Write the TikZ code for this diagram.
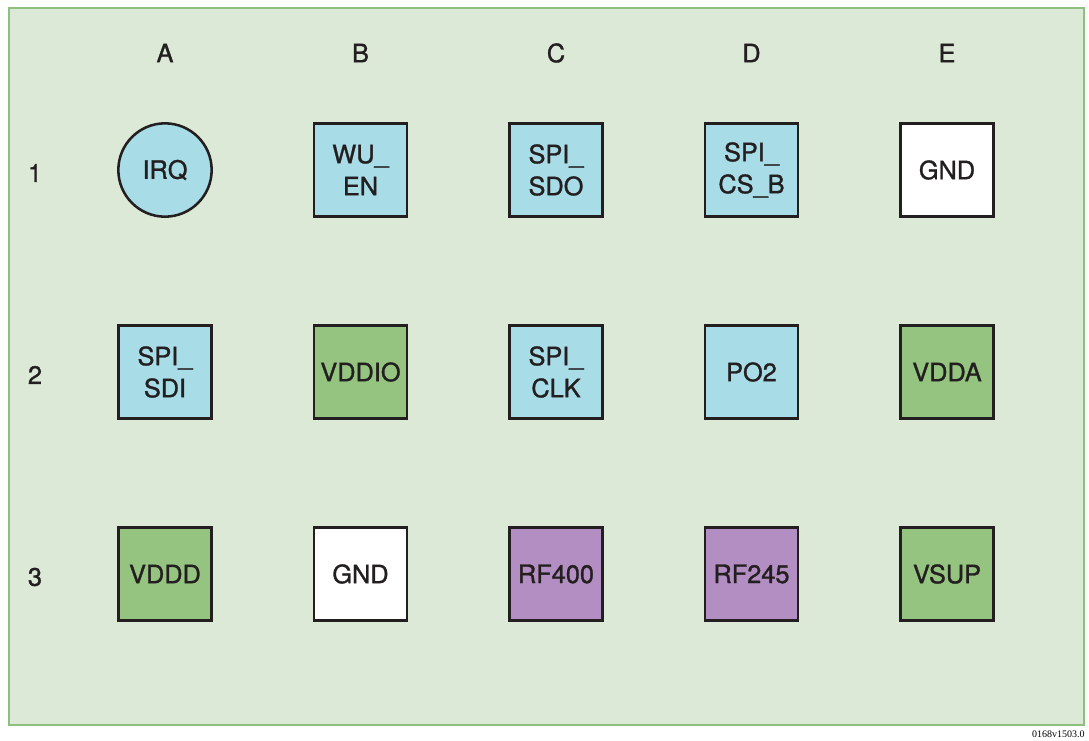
\documentclass[tikz,border=0pt]{standalone}
\usepackage{fontspec}
\setmainfont{TeX Gyre Heros}
\newfontfamily\pinfont[FakeBold=1.2]{TeX Gyre Heros}
\newfontfamily\tagfont{Liberation Serif}
\usetikzlibrary{positioning}
\definecolor{bgcol}{HTML}{DCE9D6}
\definecolor{framecol}{HTML}{8DC07F}
\definecolor{linecol}{HTML}{231F20}
\definecolor{pinblue}{HTML}{A8DDE8}
\definecolor{pingreen}{HTML}{94C47F}
\definecolor{pinpurple}{HTML}{B38EC3}

\begin{document}
\begin{tikzpicture}[x=0.75pt, y=-0.75pt,
  pinbox/.style={draw=linecol, line width=1.9pt, minimum size=70pt, inner sep=0pt,
    align=center, font=\pinfont\fontsize{19}{24}\selectfont, text=linecol},
  pinround/.style={pinbox, circle},
  axislabel/.style={font=\pinfont\fontsize{19}{24}\selectfont, text=linecol}]

 \useasboundingbox (0,0) rectangle (1089,740);
 \draw[fill=bgcol, draw=framecol, line width=1.5pt] (9,7.5) rectangle (1083.5,724.5);

 %column and row labels
 \def\dx{195.5}
 \def\dy{202}
 \foreach \i/\name in {0/A, 1/B, 2/C, 3/D, 4/E} {
   \node[axislabel] (col\name) at (165 + \i*\dx, 53) {\name};
 }
 \foreach \j/\name in {0/1, 1/2, 2/3} {
   \node[axislabel] (row\name) at (35, 173 + \j*\dy) {\name};
 }

 %balls
 \node[pinround, fill=pinblue] (pinA1) at (165, 170) {IRQ};
 \foreach \i/\j/\col/\name/\txt in {
     1/0/pinblue/B1/{WU\_\\EN},
     2/0/pinblue/C1/{SPI\_\\SDO},
     3/0/pinblue/D1/{SPI\_\\CS\_B},
     4/0/white/E1/GND,
     0/1/pinblue/A2/{SPI\_\\SDI},
     1/1/pingreen/B2/VDDIO,
     2/1/pinblue/C2/{SPI\_\\CLK},
     3/1/pinblue/D2/PO2,
     4/1/pingreen/E2/VDDA,
     0/2/pingreen/A3/VDDD,
     1/2/white/B3/GND,
     2/2/pinpurple/C3/RF400,
     3/2/pinpurple/D3/RF245,
     4/2/pingreen/E3/VSUP} {
   \node[pinbox, fill=\col] (pin\name) at (165 + \i*\dx, 170 + \j*\dy) {\txt};
 }

 \node[anchor=base east, inner sep=0pt, font=\tagfont\fontsize{7.5}{9}\selectfont] (tag) at (1085, 737) {0168v1503.0};

\end{tikzpicture}
\end{document}
